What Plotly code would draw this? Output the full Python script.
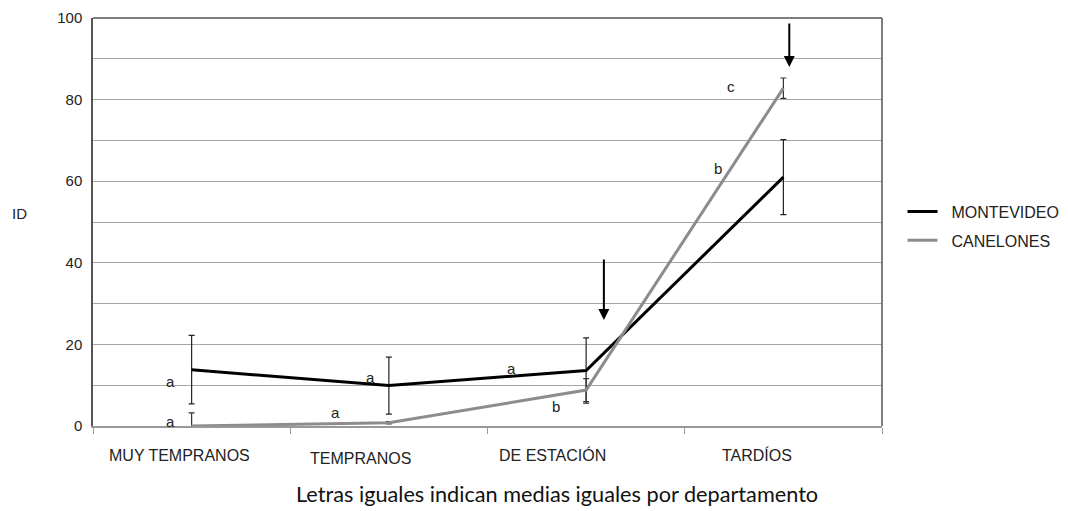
import plotly.graph_objects as go

categories = ["MUY TEMPRANOS", "TEMPRANOS", "DE ESTACIÓN", "TARDÍOS"]
montevideo = [13.8, 9.9, 13.6, 61.0]
montevideo_err = [8.4, 7.0, 8.0, 9.2]
canelones = [0.0, 0.8, 8.8, 82.8]
canelones_err = [3.2, 0.3, 2.8, 2.5]
letters_mvd = ["a", "a", "a", "b"]
letters_can = ["a", "a", "b", "c"]
y_ticks = [0, 20, 40, 60, 80, 100]

xs = list(range(len(categories)))
FONT = "Liberation Sans, Arial, sans-serif"

fig = go.Figure()
fig.add_trace(go.Scatter(
    x=xs, y=montevideo, mode="lines", name="&nbsp;&nbsp;MONTEVIDEO", legendgroup="m",
    line=dict(color="#000000", width=3),
    error_y=dict(type="data", array=montevideo_err, color="#222222", thickness=1.2, width=3),
))
fig.add_trace(go.Scatter(
    x=xs, y=canelones, mode="lines", name="&nbsp;&nbsp;CANELONES", legendgroup="c",
    line=dict(color="#8c8c8c", width=3),
    error_y=dict(type="data", array=canelones_err, color="#333333", thickness=1.2, width=3),
))

annotations = []
# letter labels (offsets are layout only)
mvd_off = [(-0.105, -2.8), (-0.091, 1.9), (-0.376, 0.6), (-0.331, 2.0)]
can_off = [(-0.105, 1.0), (-0.273, 2.6), (-0.153, -3.9), (-0.266, 0.5)]
for i in xs:
    dx, dy = mvd_off[i]
    annotations.append(dict(x=i + dx, y=montevideo[i] + dy, text=letters_mvd[i], showarrow=False,
                            font=dict(size=15, color="#222", family=FONT)))
    dx, dy = can_off[i]
    annotations.append(dict(x=i + dx, y=canelones[i] + dy, text=letters_can[i], showarrow=False,
                            font=dict(size=15, color="#222", family=FONT)))

# arrows
annotations.append(dict(x=2.09, y=26, ax=2.09, ay=41.2, axref="x", ayref="y", xref="x", yref="y",
                        showarrow=True, arrowhead=2, arrowsize=1.1, arrowwidth=2, arrowcolor="#000", text=""))
annotations.append(dict(x=3.03, y=88, ax=3.03, ay=99, axref="x", ayref="y", xref="x", yref="y",
                        showarrow=True, arrowhead=2, arrowsize=1.1, arrowwidth=2, arrowcolor="#000", text=""))

# category labels
cat_shift = [-12, -28, -34, -26]
cat_y = [-29, -32, -29, -29]
for i, c in enumerate(categories):
    annotations.append(dict(x=i, y=0, xref="x", yref="y", text=c, showarrow=False,
                            xshift=cat_shift[i], yshift=cat_y[i],
                            font=dict(size=16, color="#222", family=FONT)))

annotations.append(dict(x=-0.093, y=0.52, xref="paper", yref="paper", text="ID", showarrow=False,
                        xanchor="center", font=dict(size=15, color="#222", family=FONT)))
annotations.append(dict(x=0.588, y=-0.167, xref="paper", yref="paper", yanchor="middle",
                        text="Letras iguales indican medias iguales por departamento", showarrow=False,
                        font=dict(size=21.7, color="#111", family="Lato, Open Sans, sans-serif")))

fig.update_layout(
    width=1068, height=511,
    margin=dict(l=93, r=186, t=18, b=85, autoexpand=False),
    paper_bgcolor="white", plot_bgcolor="white",
    showlegend=True,
    legend=dict(x=1.026, y=0.49, xanchor="left", yanchor="middle",
                font=dict(size=16, color="#222", family=FONT),
                bgcolor="rgba(0,0,0,0)", itemwidth=30, tracegroupgap=5),
    annotations=annotations,
    xaxis=dict(range=[-0.5, 3.5], tickvals=[-0.5, 0.5, 1.5, 2.5, 3.5], showticklabels=False,
               ticks="outside", ticklen=6, tickcolor="#999", showgrid=False, zeroline=False,
               showline=True, linecolor="#999", linewidth=1.5, mirror=False, fixedrange=True),
    yaxis=dict(range=[0, 100], tickvals=y_ticks, ticks="", showgrid=True, gridcolor="#a6a6a6",
               gridwidth=1.2, zeroline=False, showline=True, linecolor="#555", linewidth=1.5,
               tickfont=dict(size=15, color="#222", family=FONT), ticklabelstandoff=6,
               minor=dict(dtick=10, showgrid=True, gridcolor="#a6a6a6", gridwidth=1.2)),
)
fig.add_shape(type="line", xref="paper", yref="paper", x0=0, x1=1, y0=1, y1=1,
              line=dict(color="#555", width=1.5))
fig.add_shape(type="line", xref="paper", yref="paper", x0=1, x1=1, y0=0, y1=1,
              line=dict(color="#555", width=1.5))

fig.write_html("out.html")
